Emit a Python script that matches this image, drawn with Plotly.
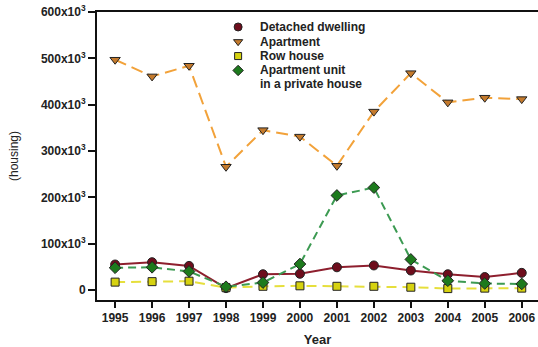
import plotly.graph_objects as go

years = list(range(1995, 2007))

detached = [55000, 60000, 52000, 4000, 34000, 35000, 49000, 53000, 42000, 34000, 28000, 37000]
apartment = [497000, 461000, 484000, 266000, 345000, 331000, 268000, 385000, 468000, 405000, 415000, 412000]
row_house = [17000, 18000, 19000, 5000, 8000, 9000, 8000, 8000, 6000, 3000, 4000, 4000]
apt_in_house = [48000, 49000, 40000, 7000, 16000, 56000, 204000, 221000, 66000, 20000, 14000, 13000]

y_ticks = [0, 100000, 200000, 300000, 400000, 500000, 600000]
y_tick_text = ["0"] + [f"{v // 1000}x10<sup>3</sup>" for v in y_ticks[1:]]

series = [
    (["Detached dwelling"], detached, "circle", "#6e0d1c", "#8e1f2e", "solid", 9),
    (["Apartment"], apartment, "triangle-down", "#c47a2c", "#f2a23a", "12px,6px", 9),
    (["Row house"], row_house, "square", "#d6d210", "#e6df3c", "10px,6px", 8),
    (["Apartment unit", "in a private house"], apt_in_house, "diamond", "#1d7a1d", "#3c9a52", "8px,5px", 9),
]

fig = go.Figure()
for name, vals, sym, mcol, lcol, dash, size in series:
    fig.add_trace(go.Scatter(
        x=years, y=vals, mode="lines+markers", name=" ".join(name), showlegend=False,
        line=dict(color=lcol, width=2, dash=dash),
        marker=dict(symbol=sym, size=size, color=mcol, line=dict(color="#222", width=1)),
    ))

# compact key in the upper part of the plot, on an overlay axis spanning [0, 1]
key_x, text_x = 0.32, 0.365
row_y = [0.948, 0.897, 0.847, 0.797]
line_step = 0.046
for (name, vals, sym, mcol, lcol, dash, size), ry in zip(series, row_y):
    fig.add_trace(go.Scatter(
        x=[key_x], y=[ry], xaxis="x2", yaxis="y2", mode="markers", showlegend=False,
        hoverinfo="skip",
        marker=dict(symbol=sym, size=size - 1, color=mcol, line=dict(color="#222", width=1)),
    ))
    for i, part in enumerate(name):
        fig.add_annotation(
            x=text_x, y=ry - i * line_step, xref="paper", yref="paper",
            xanchor="left", yanchor="middle", showarrow=False, text=part,
            font=dict(size=12, weight="bold", color="#222"),
        )

fig.update_layout(
    width=538, height=347,
    margin=dict(l=97, r=0, t=12, b=47),
    paper_bgcolor="white", plot_bgcolor="white",
    font=dict(family="Liberation Sans", color="#222"),
    showlegend=False,
    xaxis=dict(
        range=[1994.51, 2006.44], tickvals=years, ticktext=[str(y) for y in years],
        showgrid=False, zeroline=False,
        showline=True, linecolor="#111", linewidth=2, mirror=True,
        ticks="outside", ticklen=6, tickwidth=1.5, tickcolor="#111",
        tickfont=dict(size=12, weight="bold", color="#222"),
        title=dict(text="Year", font=dict(size=13, weight="bold", color="#222"), standoff=11),
    ),
    yaxis=dict(
        range=[-21600, 600000], tickvals=y_ticks, ticktext=y_tick_text,
        showgrid=False, zeroline=False,
        showline=True, linecolor="#111", linewidth=2,
        ticks="outside", ticklen=7, tickwidth=1.5, tickcolor="#111",
        tickfont=dict(size=12, weight="bold", color="#222"),
        title=dict(text="(housing)", font=dict(size=12, color="#222"), standoff=20),
    ),
    xaxis2=dict(overlaying="x", range=[0, 1], visible=False, fixedrange=True),
    yaxis2=dict(overlaying="y", range=[0, 1], visible=False, fixedrange=True),
)

fig.write_html("out.html")
